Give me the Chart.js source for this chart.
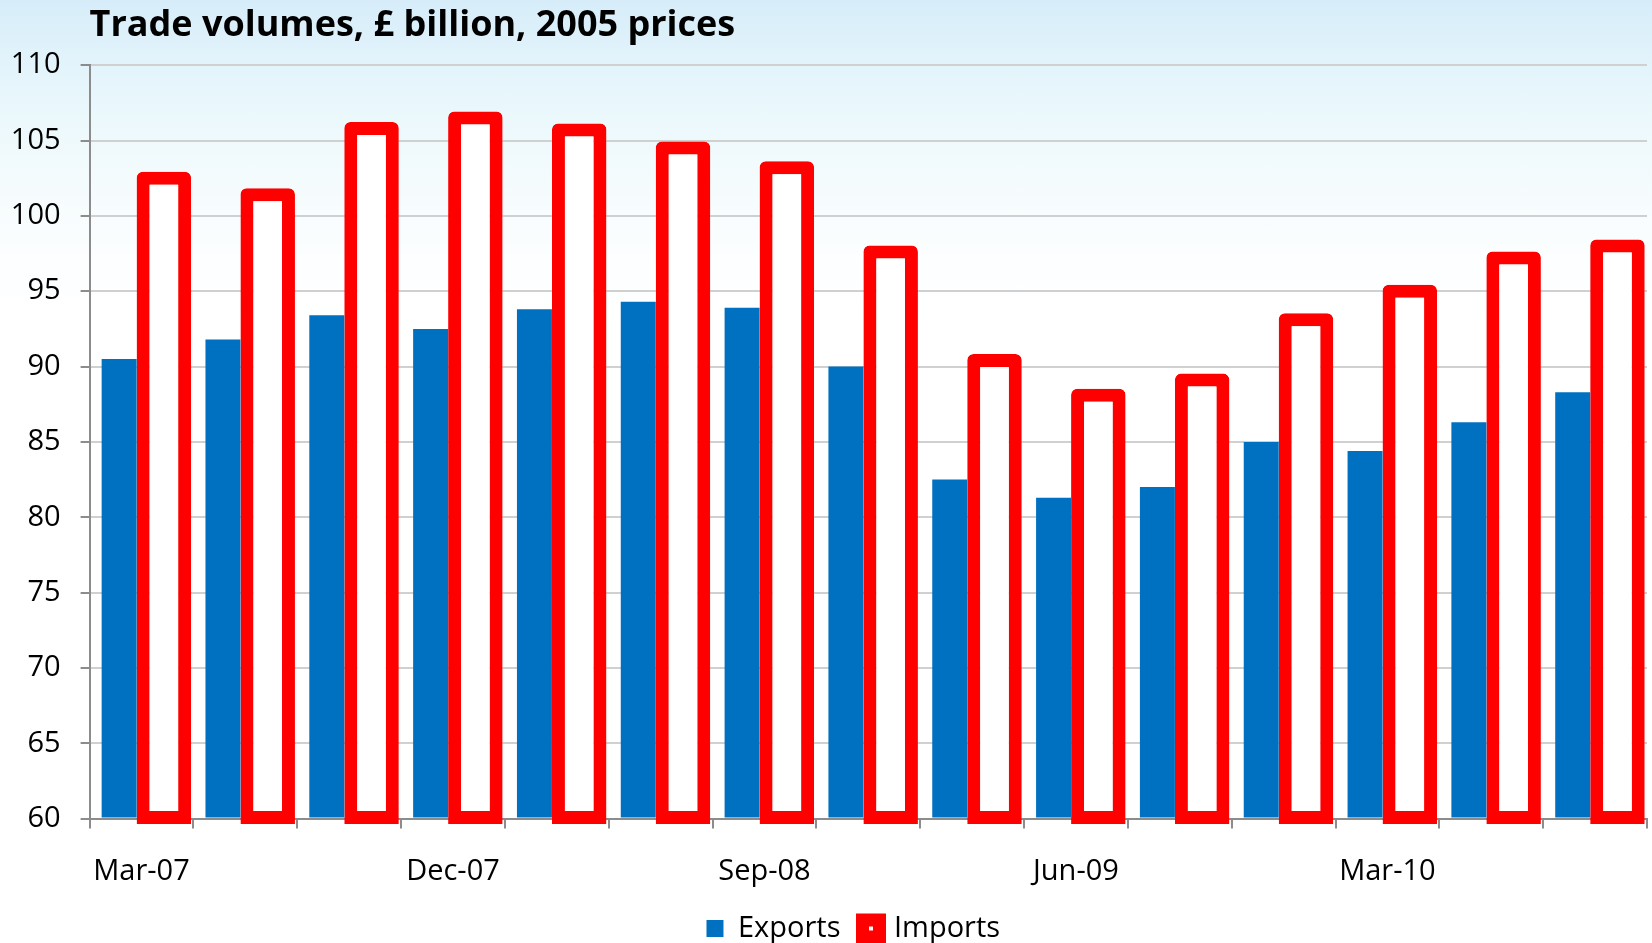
<!DOCTYPE html>
<html>
<head>
<meta charset="utf-8">
<script src="https://cdn.jsdelivr.net/npm/chart.js@4.4.1/dist/chart.umd.min.js"></script>
<style>
    html, body {
        margin: 0;
        padding: 0;
    }
    body {
        width: 1652px;
        height: 943px;
        overflow: hidden;
        background: linear-gradient(180deg, #d6edf9 0px, #e2f3fb 60px, #eaf8fc 110px, #f4fbfd 180px, #fcfeff 260px, #ffffff 320px);
    }
    #wrap {
        position: relative;
        width: 1652px;
        height: 943px;
    }
</style>
</head>
<body>
<div id="wrap"><canvas id="trade-chart"></canvas></div>
<script>
const quarters = ['Mar-07', 'Jun-07', 'Sep-07', 'Dec-07', 'Mar-08', 'Jun-08', 'Sep-08', 'Dec-08',
                  'Mar-09', 'Jun-09', 'Sep-09', 'Dec-09', 'Mar-10', 'Jun-10', 'Sep-10'];
const tickLabels = ['Mar-07', 'Dec-07', 'Sep-08', 'Jun-09', 'Mar-10'];
const exportsValues = [90.5, 91.8, 93.4, 92.5, 93.8, 94.3, 93.9, 90.0, 82.5, 81.3, 82.0, 85.0, 84.4, 86.3, 88.3];
const importsValues = [102.5, 101.4, 105.8, 106.5, 105.7, 104.5, 103.2, 97.6, 90.4, 88.1, 89.1, 93.1, 95.0, 97.2, 98.0];
const yMin = 60;
const yMax = 110;

const FONT = "'Open Sans', 'Noto Sans', sans-serif";

// Excel strokes the bar outline on the edge, Chart.js strokes inside,
// so push the outlined bars out by half the border
const strokeOnEdge = {
    id: 'strokeOnEdge',
    afterDatasetsUpdate(chart) {
        chart.data.datasets.forEach((ds, i) => {
            if (!ds.borderWidth) return;
            let half = ds.borderWidth / 2;
            chart.getDatasetMeta(i).data.forEach((bar) => {
                bar.y -= half;
                bar.base += half;
            });
        });
    }
};

// legend sits a little left of the plot centre in the original
const legendNudge = {
    id: 'legendNudge',
    afterLayout(chart) {
        chart.legend.left -= 15;
        chart.legend.right -= 15;
    }
};

new Chart(document.getElementById('trade-chart'), {
    type: 'bar',
    data: {
        labels: quarters,
        datasets: [{
            label: 'Exports',
            data: exportsValues,
            base: yMin,
            backgroundColor: '#0070C0',
            borderWidth: 0,
            categoryPercentage: 0.862,
            barPercentage: 0.782
        }, {
            label: 'Imports',
            data: importsValues,
            base: yMin,
            backgroundColor: '#ffffff',
            borderColor: '#ff0000',
            borderWidth: 13,
            borderSkipped: false,
            borderRadius: {topLeft: 6, topRight: 6, bottomLeft: 0, bottomRight: 0},
            categoryPercentage: 0.862,
            barPercentage: 1.218,
            clip: false
        }]
    },
    options: {
        responsive: true,
        maintainAspectRatio: false,
        animation: false,
        events: [],
        layout: {
            padding: {top: 0, left: 8, right: 5, bottom: -10}
        },
        plugins: {
            title: {
                display: true,
                text: 'Trade volumes, £ billion, 2005 prices',
                align: 'start',
                fullSize: false,
                color: '#000',
                font: {family: FONT, weight: 'bold', size: 36},
                padding: {top: 4, bottom: 18}
            },
            legend: {
                position: 'bottom',
                fullSize: false,
                labels: {
                    color: '#000',
                    font: {family: FONT, size: 29},
                    boxWidth: 17,
                    boxHeight: 17,
                    padding: 22
                }
            },
            tooltip: {enabled: false}
        },
        scales: {
            x: {
                afterFit: (scale) => {
                    scale.height = 73.4;
                },
                grid: {
                    display: true,
                    drawOnChartArea: false,
                    drawTicks: true,
                    tickLength: 10,
                    color: '#8c8c8c',
                    lineWidth: 2,
                    offset: true
                },
                border: {color: '#8c8c8c', width: 2},
                ticks: {
                    autoSkip: false,
                    maxRotation: 0,
                    padding: 26,
                    color: '#000',
                    font: {family: FONT, size: 29},
                    callback: function (value) {
                        let label = this.getLabelForValue(value);
                        return tickLabels.includes(label) ? label : '';
                    }
                }
            },
            y: {
                min: yMin,
                max: yMax,
                afterFit: (scale) => {
                    scale.width = 81.6;
                },
                grid: {
                    color: '#d0d0d0',
                    lineWidth: 2,
                    tickColor: '#8c8c8c',
                    tickLength: 9,
                    drawTicks: true
                },
                border: {color: '#8c8c8c', width: 2},
                ticks: {
                    stepSize: 5,
                    padding: 20,
                    color: '#000',
                    font: {family: FONT, size: 29}
                }
            }
        }
    },
    plugins: [strokeOnEdge, legendNudge]
});
</script>
</body>
</html>
